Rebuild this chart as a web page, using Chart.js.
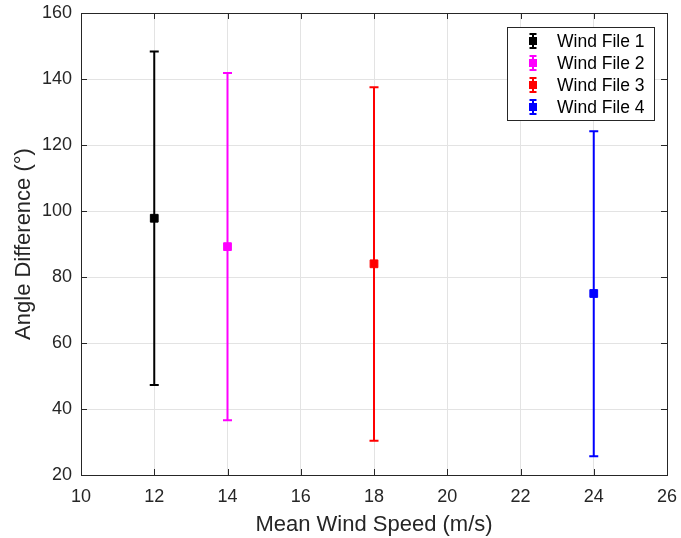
<!DOCTYPE html>
<html lang="en">
<head>
<meta charset="UTF-8">
<title>Angle Difference vs Mean Wind Speed</title>
<script src="https://cdn.jsdelivr.net/npm/chart.js"></script>
<style>
    body { margin: 0; background: #fff; }
    .chart-box { position: relative; width: 681px; height: 538px; }
</style>
</head>
<body>
<div class="chart-box"><canvas id="errChart"></canvas></div>
<script>
    // Data per wind file
    const fileNames = ['Wind File 1', 'Wind File 2', 'Wind File 3', 'Wind File 4'];
    const windSpeeds = [12, 14, 18, 24];
    const meanAngles = [97.8, 89.2, 84.0, 75.0];
    const upperAngles = [148.3, 141.8, 137.5, 124.2];
    const lowerAngles = [47.3, 36.6, 30.4, 25.7];
    const seriesColors = ['#000000', '#ff00ff', '#ff0000', '#0000ff'];

    const xTicks = [10, 12, 14, 16, 18, 20, 22, 24, 26];
    const yTicks = [20, 40, 60, 80, 100, 120, 140, 160];

    const axisColor = '#262626';
    const fontFamily = '"Liberation Sans", Arial, Helvetica, sans-serif';

    // Vertical bars with caps from lower to upper value
    const errorBars = {
        id: 'errorBars',
        beforeDatasetsDraw(chart) {
            const { ctx, scales: { x, y } } = chart;
            ctx.save();
            ctx.lineWidth = 2;
            windSpeeds.forEach((w, i) => {
                const px = x.getPixelForValue(w);
                const top = y.getPixelForValue(upperAngles[i]);
                const bot = y.getPixelForValue(lowerAngles[i]);
                ctx.strokeStyle = seriesColors[i];
                ctx.beginPath();
                ctx.moveTo(px, top);
                ctx.lineTo(px, bot);
                ctx.moveTo(px - 4.5, top);
                ctx.lineTo(px + 4.5, top);
                ctx.moveTo(px - 4.5, bot);
                ctx.lineTo(px + 4.5, bot);
                ctx.stroke();
            });
            ctx.restore();
        }
    };

    // Box around the axes with ticks pointing inward
    const axesBox = {
        id: 'axesBox',
        afterDatasetsDraw(chart) {
            const { ctx, chartArea: a, scales: { x, y } } = chart;
            const len = 6;
            ctx.save();
            ctx.strokeStyle = axisColor;
            ctx.lineWidth = 1;
            ctx.beginPath();
            xTicks.forEach(t => {
                const px = Math.round(x.getPixelForValue(t)) + 0.5;
                ctx.moveTo(px, a.bottom); ctx.lineTo(px, a.bottom - len);
                ctx.moveTo(px, a.top); ctx.lineTo(px, a.top + len);
            });
            yTicks.forEach(t => {
                const py = Math.round(y.getPixelForValue(t)) + 0.5;
                ctx.moveTo(a.left, py); ctx.lineTo(a.left + len, py);
                ctx.moveTo(a.right, py); ctx.lineTo(a.right - len, py);
            });
            ctx.stroke();
            ctx.strokeRect(Math.round(a.left) + 0.5, Math.round(a.top) + 0.5,
                Math.round(a.right - a.left), Math.round(a.bottom - a.top));
            ctx.restore();
        }
    };

    // Legend inside the top-right corner
    const boxLegend = {
        id: 'boxLegend',
        afterDraw(chart) {
            const { ctx, chartArea: a } = chart;
            const w = 147, h = 93;
            const left = a.right - 13 - w, top = a.top + 14;
            ctx.save();
            ctx.fillStyle = '#fff';
            ctx.fillRect(left, top, w, h);
            ctx.strokeStyle = axisColor;
            ctx.lineWidth = 1;
            ctx.strokeRect(Math.round(left) + 0.5, Math.round(top) + 0.5, w, h);
            ctx.font = '17.5px ' + fontFamily;
            ctx.textBaseline = 'middle';
            fileNames.forEach((name, i) => {
                const cy = top + 14 + i * 22;
                const cx = left + 26;
                ctx.strokeStyle = seriesColors[i];
                ctx.fillStyle = seriesColors[i];
                ctx.lineWidth = 2;
                ctx.beginPath();
                ctx.moveTo(cx, cy - 7); ctx.lineTo(cx, cy + 7);
                ctx.moveTo(cx - 3.5, cy - 7); ctx.lineTo(cx + 3.5, cy - 7);
                ctx.moveTo(cx - 3.5, cy + 7); ctx.lineTo(cx + 3.5, cy + 7);
                ctx.stroke();
                ctx.fillRect(cx - 4, cy - 4, 8, 8);
                ctx.fillStyle = '#000';
                ctx.fillText(name, left + 50, cy + 1);
            });
            ctx.restore();
        }
    };

    const datasets = fileNames.map((name, i) => ({
        label: name,
        data: [{ x: windSpeeds[i], y: meanAngles[i] }],
        backgroundColor: seriesColors[i],
        borderColor: seriesColors[i],
        pointStyle: 'rect',
        pointRadius: 5.5,
        pointHoverRadius: 5.5
    }));

    new Chart(document.getElementById('errChart'), {
        type: 'scatter',
        data: { datasets },
        options: {
            responsive: true,
            maintainAspectRatio: false,
            animation: false,
            layout: { padding: { top: 13, right: 14, left: 0, bottom: 0 } },
            plugins: {
                legend: { display: false },
                tooltip: { enabled: false }
            },
            scales: {
                x: {
                    type: 'linear',
                    min: 10,
                    max: 26,
                    afterBuildTicks: s => { s.ticks = xTicks.map(v => ({ value: v })); },
                    afterFit: s => { s.height = 63; s.paddingLeft = 0; s.paddingRight = 0; },
                    grid: { color: '#e3e3e3', drawTicks: false },
                    border: { display: false },
                    ticks: { color: axisColor, padding: 11, font: { family: fontFamily, size: 18 } },
                    title: {
                        display: true,
                        text: 'Mean Wind Speed (m/s)',
                        color: axisColor,
                        padding: { top: 0, bottom: 0 },
                        font: { family: fontFamily, size: 22 }
                    }
                },
                y: {
                    min: 20,
                    max: 160,
                    afterBuildTicks: s => { s.ticks = yTicks.map(v => ({ value: v })); },
                    afterFit: s => { s.width = 81; s.paddingTop = 0; s.paddingBottom = 0; },
                    grid: { color: '#e3e3e3', drawTicks: false },
                    border: { display: false },
                    ticks: { color: axisColor, padding: 9, font: { family: fontFamily, size: 18 } },
                    title: {
                        display: true,
                        text: 'Angle Difference (°)',
                        color: axisColor,
                        padding: { top: 11, bottom: 0 },
                        font: { family: fontFamily, size: 22 }
                    }
                }
            }
        },
        plugins: [errorBars, axesBox, boxLegend]
    });
</script>
</body>
</html>
